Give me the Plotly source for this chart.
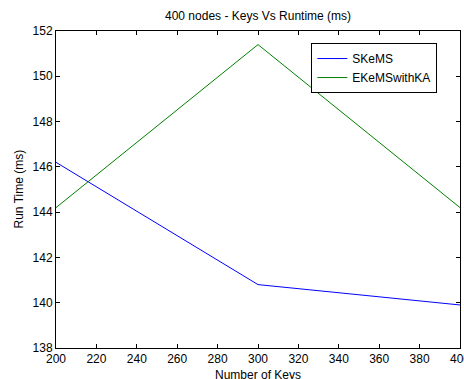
import plotly.graph_objects as go

keys = [200, 300, 400]
skems = [146.2, 140.8, 139.9]
ekems_ka = [144.2, 151.4, 144.2]
x_ticks = list(range(200, 401, 20))
y_ticks = list(range(138, 153, 2))

fig = go.Figure()
fig.add_trace(go.Scatter(x=keys, y=skems, mode="lines", name="SKeMS",
                         line=dict(color="#0000ff", width=1)))
fig.add_trace(go.Scatter(x=keys, y=ekems_ka, mode="lines", name="EKeMSwithKA",
                         line=dict(color="#008000", width=1)))

axis_common = dict(showline=True, linecolor="black", linewidth=1, mirror="allticks",
                   ticks="inside", ticklen=4, tickcolor="black", showgrid=False,
                   zeroline=False, automargin=False,
                   tickfont=dict(size=12, color="black"))

fig.update_layout(
    width=464, height=379,
    margin=dict(l=56, r=4, t=31, b=31),
    paper_bgcolor="white", plot_bgcolor="white",
    font=dict(family="Liberation Sans, Arial, sans-serif", size=12, color="black"),
    xaxis=dict(range=[200, 400], tickvals=x_ticks, ticklabeloverflow="allow", **axis_common),
    yaxis=dict(range=[138, 152], tickvals=y_ticks, **axis_common),
    legend=dict(x=0.632, y=0.962, xanchor="left", yanchor="top",
                bordercolor="black", borderwidth=1, bgcolor="white",
                font=dict(size=12), tracegroupgap=0),
    showlegend=True,
    annotations=[
        dict(text="400 nodes - Keys Vs Runtime (ms)", xref="paper", yref="paper",
             x=0.5, y=1, xanchor="center", yanchor="bottom", yshift=6,
             showarrow=False, font=dict(size=12)),
        dict(text="Number of Keys", xref="paper", yref="paper",
             x=0.5, y=0, xanchor="center", yanchor="top", yshift=-18,
             showarrow=False, font=dict(size=12)),
        dict(text="Run Time (ms)", xref="paper", yref="paper",
             x=0, y=0.5, xanchor="right", yanchor="middle", xshift=-29,
             textangle=-90, showarrow=False, font=dict(size=12)),
    ],
)

fig.write_html("out.html", config={"displayModeBar": False},
               post_script="document.body.style.margin='0';document.body.style.overflow='hidden';")
